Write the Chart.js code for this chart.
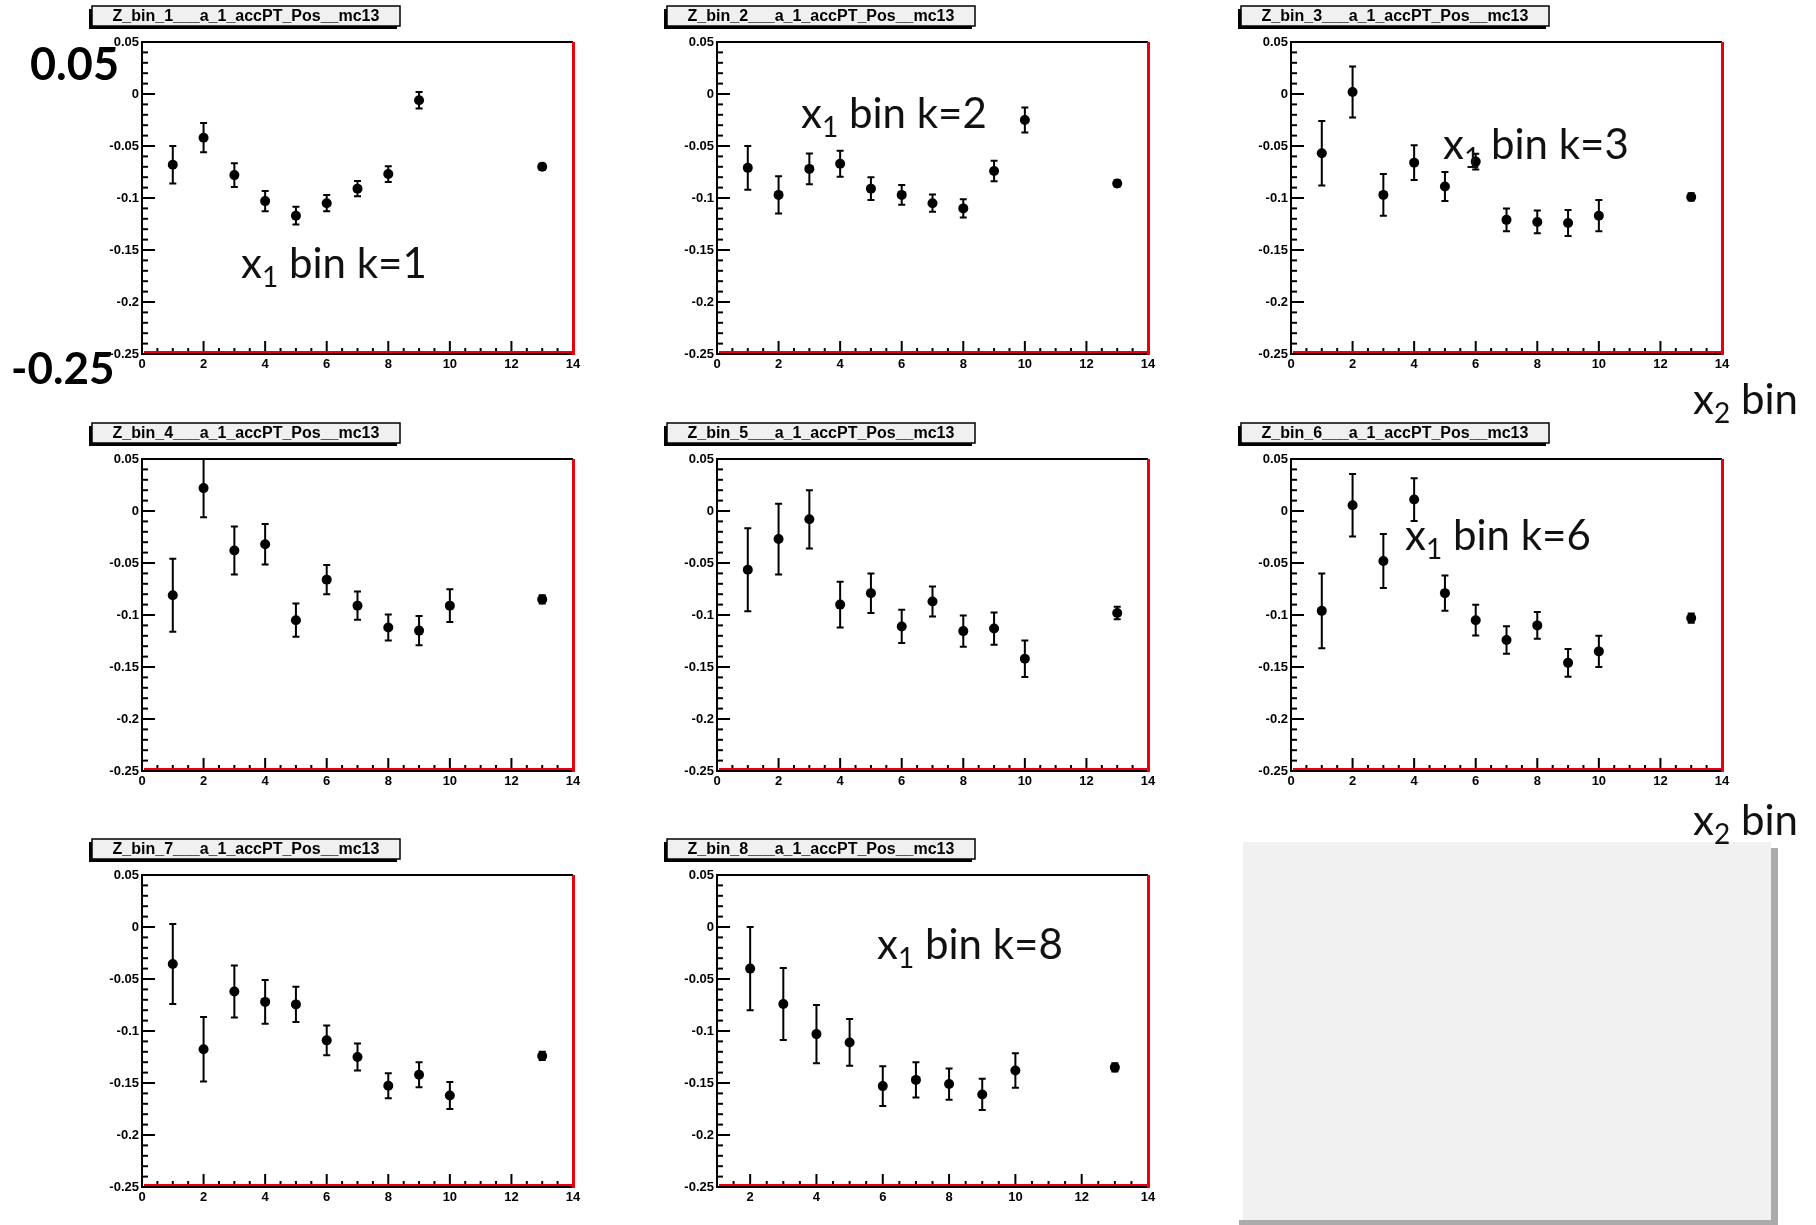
<!DOCTYPE html>
<html>
<head>
<meta charset="utf-8">
<script src="https://cdn.jsdelivr.net/npm/chart.js@4.4.0/dist/chart.umd.min.js"></script>
<style>
    html, body { margin: 0; padding: 0; background: #fff; }
    #page { position: relative; width: 1816px; height: 1225px; overflow: hidden; background: #fff; }
    canvas.panel { position: absolute; }
    #overlay { position: absolute; left: 0; top: 0; pointer-events: none; }
</style>
</head>
<body>
<div id="page">
    <svg id="overlay" width="1816" height="1225" xmlns="http://www.w3.org/2000/svg"></svg>
</div>
<script>
// --- Data ---
const binsK1 = [1, 2, 3, 4, 5, 6, 7, 8, 9, 13];
const binsK2to7 = [1, 2, 3, 4, 5, 6, 7, 8, 9, 10, 13];
const binsK8 = [2, 3, 4, 5, 6, 7, 8, 9, 10, 13];

const asymK1 = [-0.068, -0.042, -0.078, -0.103, -0.117, -0.105, -0.091, -0.077, -0.006, -0.070];
const errK1 = [0.018, 0.014, 0.0115, 0.0098, 0.0085, 0.0078, 0.0074, 0.0075, 0.008, 0.003];

const asymK2 = [-0.071, -0.097, -0.072, -0.067, -0.091, -0.097, -0.105, -0.110, -0.074, -0.025, -0.086];
const errK2 = [0.021, 0.018, 0.0147, 0.0125, 0.011, 0.0095, 0.0083, 0.0088, 0.0098, 0.012, 0.003];

const asymK3 = [-0.057, 0.002, -0.097, -0.066, -0.089, -0.065, -0.121, -0.123, -0.124, -0.117, -0.099];
const errK3 = [0.031, 0.0245, 0.020, 0.0167, 0.014, 0.0075, 0.011, 0.011, 0.0125, 0.015, 0.0035];

const asymK4 = [-0.081, 0.022, -0.038, -0.032, -0.105, -0.066, -0.091, -0.112, -0.115, -0.091, -0.085];
const errK4 = [0.035, 0.028, 0.023, 0.0195, 0.016, 0.014, 0.0135, 0.0125, 0.014, 0.0157, 0.004];

const asymK5 = [-0.0565, -0.027, -0.008, -0.090, -0.079, -0.111, -0.087, -0.1155, -0.113, -0.142, -0.098];
const errK5 = [0.040, 0.034, 0.028, 0.022, 0.019, 0.016, 0.0145, 0.015, 0.0155, 0.0175, 0.006];

const asymK6 = [-0.096, 0.0055, -0.048, 0.011, -0.079, -0.105, -0.124, -0.110, -0.146, -0.135, -0.103];
const errK6 = [0.036, 0.030, 0.026, 0.0205, 0.017, 0.0148, 0.0133, 0.0128, 0.0133, 0.015, 0.0045];

const asymK7 = [-0.0356, -0.1176, -0.062, -0.072, -0.0744, -0.109, -0.125, -0.1526, -0.142, -0.162, -0.124];
const errK7 = [0.0385, 0.031, 0.025, 0.021, 0.017, 0.0143, 0.013, 0.012, 0.012, 0.013, 0.004];

const asymK8 = [-0.040, -0.074, -0.103, -0.111, -0.153, -0.147, -0.151, -0.161, -0.138, -0.135];
const errK8 = [0.040, 0.0346, 0.028, 0.0225, 0.019, 0.017, 0.015, 0.015, 0.0165, 0.004];

const yTickVals = [0.05, 0, -0.05, -0.1, -0.15, -0.2, -0.25];
const xTickVals = [0, 2, 4, 6, 8, 10, 12, 14];
const xTickValsK8 = [2, 4, 6, 8, 10, 12, 14];

const panelTitles = [
    'Z_bin_1___a_1_accPT_Pos__mc13',
    'Z_bin_2___a_1_accPT_Pos__mc13',
    'Z_bin_3___a_1_accPT_Pos__mc13',
    'Z_bin_4___a_1_accPT_Pos__mc13',
    'Z_bin_5___a_1_accPT_Pos__mc13',
    'Z_bin_6___a_1_accPT_Pos__mc13',
    'Z_bin_7___a_1_accPT_Pos__mc13',
    'Z_bin_8___a_1_accPT_Pos__mc13'
];

const panels = [
    { bins: binsK1, vals: asymK1, errs: errK1, xMin: 0, xTicks: xTickVals },
    { bins: binsK2to7, vals: asymK2, errs: errK2, xMin: 0, xTicks: xTickVals },
    { bins: binsK2to7, vals: asymK3, errs: errK3, xMin: 0, xTicks: xTickVals },
    { bins: binsK2to7, vals: asymK4, errs: errK4, xMin: 0, xTicks: xTickVals },
    { bins: binsK2to7, vals: asymK5, errs: errK5, xMin: 0, xTicks: xTickVals },
    { bins: binsK2to7, vals: asymK6, errs: errK6, xMin: 0, xTicks: xTickVals },
    { bins: binsK2to7, vals: asymK7, errs: errK7, xMin: 0, xTicks: xTickVals },
    { bins: binsK8, vals: asymK8, errs: errK8, xMin: 1, xTicks: xTickValsK8 }
];

// --- Layout ---
const colLeft = [142, 717, 1291];
const rowTop = [42, 459, 875];
const plotW = 431;
const plotH = 312;
const padL = 70, padT = 12, padR = 12, padB = 30;

const page = document.getElementById('page');
const overlay = document.getElementById('overlay');

Chart.defaults.font.family = "'Liberation Sans', Arial, sans-serif";
Chart.defaults.font.weight = 'bold';
Chart.defaults.font.size = 13;
Chart.defaults.color = '#000';

// ROOT-like frame: inward ticks, error bars, red right/bottom edges
const rootStyle = {
    id: 'rootStyle',
    beforeDatasetsDraw(chart, args, opts) {
        const { ctx, chartArea: a, scales: { x, y } } = chart;
        const pts = chart.data.datasets[0].data;
        ctx.save();
        ctx.beginPath();
        ctx.rect(a.left, a.top, a.right - a.left, a.bottom - a.top);
        ctx.clip();
        ctx.strokeStyle = '#000';
        ctx.lineWidth = 2;
        pts.forEach((p, i) => {
            const e = opts.errors[i];
            const px = x.getPixelForValue(p.x);
            const y1 = y.getPixelForValue(p.y + e);
            const y2 = y.getPixelForValue(p.y - e);
            ctx.beginPath();
            ctx.moveTo(px, y1); ctx.lineTo(px, y2);
            ctx.moveTo(px - 3.5, y1); ctx.lineTo(px + 3.5, y1);
            ctx.moveTo(px - 3.5, y2); ctx.lineTo(px + 3.5, y2);
            ctx.stroke();
        });
        ctx.restore();
    },
    afterDraw(chart, args, opts) {
        const { ctx, chartArea: a, scales: { x, y } } = chart;
        ctx.save();
        ctx.strokeStyle = '#000';
        ctx.lineWidth = 2;
        // y ticks
        const ny = Math.round((y.max - y.min) / opts.yMinor);
        for (let i = 0; i <= ny; i++) {
            const v = y.min + i * opts.yMinor;
            const major = i % 5 === 0;
            const py = y.getPixelForValue(v);
            ctx.beginPath();
            ctx.moveTo(a.left, py);
            ctx.lineTo(a.left + (major ? 13 : 6), py);
            ctx.stroke();
        }
        // x ticks
        const nx = Math.round((x.max - x.min) / opts.xMinor);
        for (let i = 0; i <= nx; i++) {
            const v = x.min + i * opts.xMinor;
            const major = Math.abs(v % 2) < 1e-9;
            const px = x.getPixelForValue(v);
            ctx.beginPath();
            ctx.moveTo(px, a.bottom);
            ctx.lineTo(px, a.bottom - (major ? 13 : 6));
            ctx.stroke();
        }
        // top edge
        ctx.beginPath();
        ctx.moveTo(a.left, a.top);
        ctx.lineTo(a.right, a.top);
        ctx.stroke();
        // red right and bottom edges
        ctx.strokeStyle = '#e8000b';
        ctx.lineWidth = 3;
        ctx.beginPath();
        ctx.moveTo(a.right + 0.5, a.top);
        ctx.lineTo(a.right + 0.5, a.bottom + 1);
        ctx.stroke();
        ctx.lineWidth = 2;
        ctx.beginPath();
        ctx.moveTo(a.left + 2, a.bottom - 2);
        ctx.lineTo(a.right, a.bottom - 2);
        ctx.stroke();
        ctx.restore();
    }
};

panels.forEach((p, idx) => {
    const left = colLeft[idx % 3];
    const top = rowTop[Math.floor(idx / 3)];

    const canvas = document.createElement('canvas');
    canvas.className = 'panel';
    canvas.width = padL + plotW + padR;
    canvas.height = padT + plotH + padB;
    canvas.style.left = (left - padL) + 'px';
    canvas.style.top = (top - padT) + 'px';
    page.insertBefore(canvas, overlay);

    new Chart(canvas, {
        type: 'scatter',
        data: {
            datasets: [{
                data: p.bins.map((b, i) => ({ x: b, y: p.vals[i] })),
                pointRadius: 5,
                pointHoverRadius: 5,
                pointBackgroundColor: '#000',
                pointBorderWidth: 0,
                showLine: false
            }]
        },
        options: {
            responsive: false,
            animation: false,
            layout: { padding: { top: padT, right: padR, left: 0, bottom: 0 } },
            scales: {
                x: {
                    type: 'linear',
                    min: p.xMin,
                    max: 14,
                    grid: { display: false, drawTicks: false },
                    border: { display: true, color: '#000', width: 2 },
                    afterBuildTicks: (s) => { s.ticks = p.xTicks.map(v => ({ value: v })); },
                    afterFit: (s) => { s.height = padB; },
                    ticks: { autoSkip: false, maxRotation: 0, padding: 3, callback: (v) => String(v) }
                },
                y: {
                    type: 'linear',
                    min: -0.25,
                    max: 0.05,
                    grid: { display: false, drawTicks: false },
                    border: { display: true, color: '#000', width: 2 },
                    afterBuildTicks: (s) => { s.ticks = yTickVals.map(v => ({ value: v })); },
                    afterFit: (s) => { s.width = padL; },
                    ticks: { autoSkip: false, padding: 3, callback: (v) => String(parseFloat(v.toFixed(3))) }
                }
            },
            plugins: {
                legend: { display: false },
                tooltip: { enabled: false },
                rootStyle: { errors: p.errs, xMinor: 0.5, yMinor: 0.01 }
            }
        },
        plugins: [rootStyle]
    });
});

// --- Overlay: title boxes, annotations, empty pad ---
const SVGNS = 'http://www.w3.org/2000/svg';
function svgEl(tag, attrs, text, parent) {
    const el = document.createElementNS(SVGNS, tag);
    for (const k in attrs) el.setAttribute(k, attrs[k]);
    if (text != null) el.textContent = text;
    (parent || overlay).appendChild(el);
    return el;
}

panelTitles.forEach((t, idx) => {
    const bx = colLeft[idx % 3] - 50;
    const by = rowTop[Math.floor(idx / 3)] - 36;
    svgEl('rect', { x: bx - 3, y: by + 3, width: 308, height: 20, fill: '#000' });
    svgEl('rect', { x: bx, y: by, width: 308, height: 20, fill: '#f0f0f0', stroke: '#000', 'stroke-width': 1.5 });
    svgEl('text', {
        x: bx + 154, y: by + 15, 'text-anchor': 'middle',
        'font-family': 'Liberation Sans, Arial, sans-serif', 'font-weight': 'bold', 'font-size': 16
    }, t);
});

// empty pad in the bottom right
svgEl('rect', { x: 1771, y: 848, width: 7, height: 377, fill: '#ababab' });
svgEl('rect', { x: 1239, y: 1220, width: 539, height: 5, fill: '#ababab' });
svgEl('rect', { x: 1243, y: 842, width: 528, height: 378, fill: '#f1f1f1' });

function subLabel(x, y, base, sub, rest, size) {
    const t = svgEl('text', { x: x, y: y, 'font-family': 'Lato, sans-serif', 'font-size': size, fill: '#111', style: 'white-space:pre' });
    svgEl('tspan', {}, base, t);
    svgEl('tspan', { 'font-size': Math.round(size * 0.66), dy: Math.round(size * 0.22) }, sub, t);
    svgEl('tspan', { 'font-size': size, dy: -Math.round(size * 0.22) }, rest, t);
}

const annSize = 42;
subLabel(241, 278, 'x', '1', ' bin k=1', annSize);
subLabel(801, 128, 'x', '1', ' bin k=2', annSize);
subLabel(1443, 159, 'x', '1', ' bin k=3', annSize);
subLabel(1405, 550, 'x', '1', ' bin k=6', annSize);
subLabel(877, 959, 'x', '1', ' bin k=8', annSize);
subLabel(1693, 414, 'x', '2', ' bin', annSize);
subLabel(1693, 835, 'x', '2', ' bin', annSize);

svgEl('text', { x: 30, y: 80, 'font-family': 'Lato, sans-serif', 'font-weight': 'bold', 'font-size': 45, fill: '#000' }, '0.05');
svgEl('text', { x: 11, y: 384, 'font-family': 'Lato, sans-serif', 'font-weight': 'bold', 'font-size': 44, fill: '#000' }, '-0.25');
</script>
</body>
</html>
